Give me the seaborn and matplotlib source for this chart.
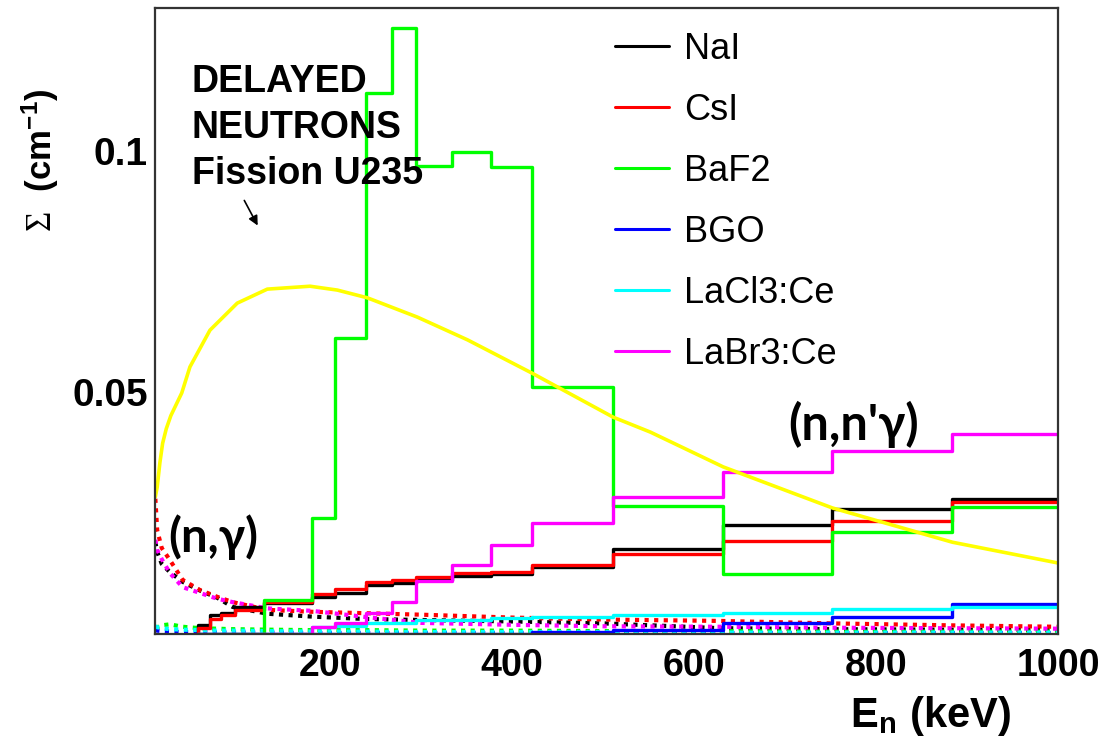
import numpy as np
import pandas as pd
import matplotlib
matplotlib.use("Agg")
import matplotlib.pyplot as plt
import seaborn as sns
from matplotlib.lines import Line2D
from matplotlib.ticker import FixedLocator, MultipleLocator, FuncFormatter

# ---------------- data ----------------
materials = ["NaI", "CsI", "BaF2", "BGO", "LaCl3:Ce", "LaBr3:Ce"]
colors = ["#000000", "#ff0000", "#00ff00", "#0000ff", "#00ffff", "#ff00ff"]

# inelastic (n,n'gamma) histograms, bin edges in keV
bin_edges = [55, 68, 80, 96, 127, 180, 205, 240, 268, 294, 334, 377, 422, 511, 632, 752, 884, 1000]
nai_inel = [0.0019, 0.0039, 0.0044, 0.0056, 0.0064, 0.0077, 0.0085, 0.0101, 0.0106, 0.0112,
            0.0120, 0.0124, 0.0139, 0.0175, 0.0226, 0.0258, 0.0279]
csi_inel = [0.0012, 0.0031, 0.0039, 0.0050, 0.0067, 0.0083, 0.0093, 0.0108, 0.0112, 0.0118,
            0.0126, 0.0128, 0.0143, 0.0165, 0.0193, 0.0233, 0.0274]
baf2_inel = [0.0, 0.0, 0.0, 0.0, 0.0070, 0.0240, 0.0613, 0.1120, 0.1255, 0.0969,
             0.0998, 0.0967, 0.0511, 0.0265, 0.0124, 0.0212, 0.0262]
bgo_inel = [0.0, 0.0, 0.0, 0.0, 0.0, 0.0, 0.0, 0.0, 0.0, 0.0,
            0.0, 0.0, 0.0004, 0.0008, 0.0023, 0.0036, 0.0062]
lacl3_inel = [0.0, 0.0, 0.0, 0.0, 0.0, 0.0014, 0.0017, 0.0023, 0.0023, 0.0029,
              0.0029, 0.0033, 0.0036, 0.0039, 0.0044, 0.0051, 0.0055]
labr3_inel = [0.0, 0.0, 0.0, 0.0, 0.0, 0.0014, 0.0023, 0.0043, 0.0066, 0.0110,
              0.0143, 0.0184, 0.0230, 0.0284, 0.0335, 0.0379, 0.0414]

# capture (n,gamma) curves (dotted)
capture_e = [8, 10, 15, 24, 38, 57, 76, 93, 131, 180, 240, 300, 400, 500, 630, 750, 880, 1000]
nai_capt = [0.0190, 0.0170, 0.0145, 0.0128, 0.0108, 0.0090, 0.0075, 0.0056, 0.0042, 0.0036,
            0.0031, 0.0029, 0.0026, 0.0022, 0.0012, 0.0010, 0.0009, 0.0008]
csi_capt = [0.0280, 0.0215, 0.0178, 0.0153, 0.0112, 0.0091, 0.0077, 0.0066, 0.0050, 0.0046,
            0.0043, 0.0040, 0.0034, 0.0030, 0.0027, 0.0022, 0.0018, 0.0015]
baf2_capt = [0.0012, 0.0014, 0.0018, 0.0020, 0.0015, 0.0012, 0.0011, 0.0010, 0.0009, 0.0008,
             0.0008, 0.0007, 0.0007, 0.0006, 0.0006, 0.0005, 0.0005, 0.0005]
bgo_capt = [0.0008, 0.0007, 0.0006, 0.0005, 0.0004, 0.0004, 0.0003, 0.0003, 0.0003, 0.0002,
            0.0002, 0.0002, 0.0002, 0.0002, 0.0002, 0.0002, 0.0002, 0.0002]
lacl3_capt = [0.0016, 0.0014, 0.0012, 0.0010, 0.0009, 0.0008, 0.0007, 0.0007, 0.0006, 0.0005,
              0.0005, 0.0004, 0.0004, 0.0004, 0.0003, 0.0003, 0.0003, 0.0003]
labr3_capt = [0.0195, 0.0174, 0.0155, 0.0126, 0.0097, 0.0085, 0.0073, 0.0066, 0.0053, 0.0048,
              0.0035, 0.0023, 0.0019, 0.0016, 0.0015, 0.0013, 0.0012, 0.0011]

# delayed-neutron spectrum of U235 fission (yellow, arbitrary scale)
spectrum_e = [8, 10, 13, 16, 20, 25, 37, 46, 68, 98, 131, 178, 208, 241, 296, 351, 422, 511,
              552, 632, 752, 884, 1000]
spectrum = [0.0284, 0.0304, 0.0355, 0.0395, 0.0425, 0.0452, 0.0499, 0.0553, 0.0629, 0.0685,
            0.0714, 0.0720, 0.0712, 0.0696, 0.0656, 0.0609, 0.0540, 0.0449, 0.0418, 0.0346,
            0.0261, 0.0190, 0.0147]

x_ticks = [200, 400, 600, 800, 1000]
y_ticks = [0.05, 0.1]

inel = [nai_inel, csi_inel, baf2_inel, bgo_inel, lacl3_inel, labr3_inel]
capt = [nai_capt, csi_capt, baf2_capt, bgo_capt, lacl3_capt, labr3_capt]

# ---------------- style ----------------
sns.set_theme(style="white")
plt.rcParams["font.family"] = ["Liberation Sans", "DejaVu Sans"]
plt.rcParams["text.color"] = "black"
plt.rcParams["axes.labelcolor"] = "black"
plt.rcParams["xtick.color"] = "black"
plt.rcParams["ytick.color"] = "black"
plt.rcParams["mathtext.fontset"] = "custom"
plt.rcParams["mathtext.rm"] = "Liberation Serif"
plt.rcParams["mathtext.bf"] = "Liberation Sans:bold"
plt.rcParams["mathtext.it"] = "Liberation Sans:bold"

W, H = 1106, 755
fig = plt.figure(figsize=(W / 100, H / 100), dpi=100)
ax = fig.add_axes([155 / W, 1 - 634 / H, (1058 - 155) / W, (634 - 8) / H])

# dotted capture curves
rows = []
for m, vals in zip(materials, capt):
    for e, v in zip(capture_e, vals):
        rows.append((m, e, v))
df_c = pd.DataFrame(rows, columns=["material", "E", "sigma"])
sns.lineplot(data=df_c, x="E", y="sigma", hue="material", hue_order=materials,
             palette=colors, estimator=None, sort=False, ax=ax, legend=False,
             lw=3.0, linestyle=(0, (1, 1.3)))

# solid step histograms
rows = []
for m, vals in zip(materials, inel):
    xs = [bin_edges[0]] + list(bin_edges)
    ys = [0.0] + list(vals) + [vals[-1]]
    for i, (e, v) in enumerate(zip(xs, ys)):
        rows.append((m, i, e, v))
df_i = pd.DataFrame(rows, columns=["material", "idx", "E", "sigma"])
for m, c in zip(materials, colors):
    sub = df_i[df_i["material"] == m]
    sns.lineplot(data=sub, x="E", y="sigma", color=c, estimator=None, sort=False,
                 drawstyle="steps-post", lw=2.4, ax=ax, legend=False)

# yellow spectrum
df_s = pd.DataFrame({"E": spectrum_e, "sigma": spectrum})
sns.lineplot(data=df_s, x="E", y="sigma", color="#ffff00", lw=2.6, ax=ax,
             estimator=None, sort=False, legend=False)

ax.set_xlim(7.6, 1000)
ax.set_ylim(0, 0.1296)
ax.set_xlabel("")
ax.set_ylabel("")

ax.xaxis.set_major_locator(FixedLocator(x_ticks))
ax.xaxis.set_minor_locator(MultipleLocator(50))
ax.yaxis.set_major_locator(FixedLocator(y_ticks))
ax.yaxis.set_minor_locator(MultipleLocator(0.01))
ax.yaxis.set_major_formatter(FuncFormatter(lambda v, p: f"{v:g}"))
ax.tick_params(axis="both", which="both", direction="in", top=False, right=False,
               width=1.3, colors="#222222", labelcolor="black")
ax.tick_params(axis="x", which="major", length=12, pad=10, labelsize=27)
ax.tick_params(axis="x", which="minor", length=7)
ax.tick_params(axis="y", which="major", length=20, pad=5, labelsize=28)
ax.tick_params(axis="y", which="minor", length=11)
for lab in ax.get_xticklabels() + ax.get_yticklabels():
    lab.set_fontweight("bold")
for s in ax.spines.values():
    s.set_color("#333333")
    s.set_linewidth(1.6)

# legend
handles = [Line2D([], [], color=c, lw=2.2) for c in colors]
ax.legend(handles, materials, loc="upper left", bbox_to_anchor=(615 / W, 1 - 32 / H),
          bbox_transform=fig.transFigure, frameon=False, fontsize=26,
          handlelength=1.5, handletextpad=0.42, labelspacing=0.72,
          borderpad=0, borderaxespad=0)

# annotations
fig.text(192 / W, 1 - 64 / H, "DELAYED\nNEUTRONS\nFission U235", fontsize=27,
         fontweight="bold", ha="left", va="top", linespacing=1.36)
ax.annotate("", xy=(259 / W, 1 - 228 / H), xytext=(243 / W, 1 - 198 / H),
            xycoords="figure fraction", textcoords="figure fraction",
            arrowprops=dict(arrowstyle="-|>", color="black", lw=1.2,
                            mutation_scale=14))
fig.text(168 / W, 1 - 537 / H, "(n,γ)", fontsize=34, fontweight="bold",
         family=["Lato", "DejaVu Sans"], ha="left", va="center")
fig.text(788 / W, 1 - 424 / H, "(n,n'γ)", fontsize=35, fontweight="bold",
         family=["Lato", "DejaVu Sans"], ha="left", va="center")

# axis titles
fig.text(850 / W, 1 - 716 / H, r"$\mathbf{E_{n}\ (keV)}$", fontsize=30, ha="left", va="center")
fig.text(40 / W, 1 - 160 / H, r"$\Sigma\ \ \mathbf{(cm^{-1})}$", fontsize=25,
         rotation=90, ha="center", va="center")

fig.savefig("out.png", dpi=100)
